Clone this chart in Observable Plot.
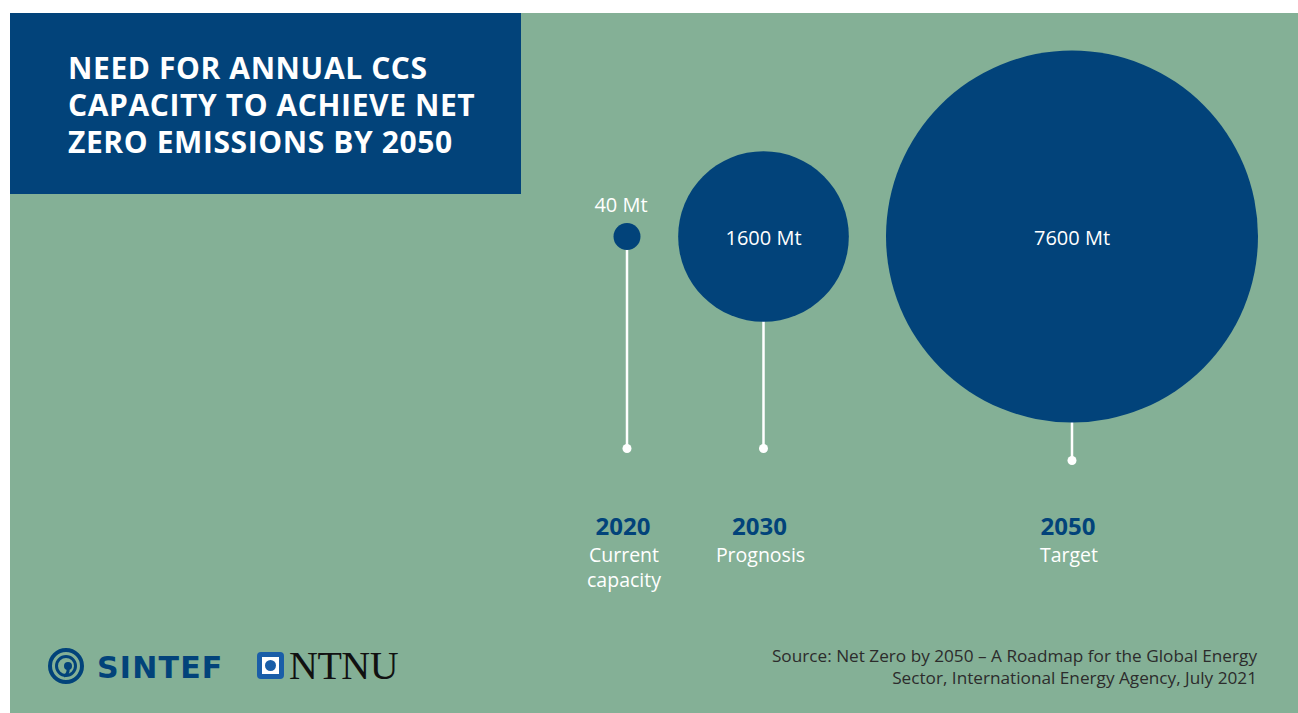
<!DOCTYPE html>
<html>
<head>
<meta charset="utf-8">
<script src="https://cdn.jsdelivr.net/npm/d3@7"></script>
<script src="https://cdn.jsdelivr.net/npm/@observablehq/plot@0.6"></script>
<style>
  html, body { margin: 0; padding: 0; background: #ffffff; }
  #page { position: relative; width: 1298px; height: 713px; overflow: hidden; background: #ffffff; font-family: "Open Sans", sans-serif; }
  #panel { position: absolute; left: 10px; top: 13px; width: 1288px; height: 700px; background: #84b096; }
  #titlebox { position: absolute; left: 10px; top: 13px; width: 511px; height: 181px; background: #02437a; }
  #title { position: absolute; left: 68px; top: 49px; margin: 0; color: #ffffff; font-family: "Open Sans", sans-serif; font-weight: 700; font-size: 30px; line-height: 37px; letter-spacing: 0.6px; }
  #chart { position: absolute; left: 0; top: 0; }
  #source { position: absolute; right: 41px; top: 645px; text-align: right; color: #2c2c2c; font-family: "Open Sans", sans-serif; font-size: 17.2px; line-height: 22px; }
  #logos { position: absolute; left: 46px; top: 635px; overflow: visible; }
</style>
</head>
<body>
<div id="page">
  <div id="panel"></div>
  <div id="titlebox"></div>
  <h1 id="title">NEED FOR ANNUAL CCS<br>CAPACITY TO ACHIEVE NET<br>ZERO EMISSIONS BY 2050</h1>
  <div id="chart"></div>
  <svg id="logos" width="400" height="66" viewBox="0 0 400 66">
    <g transform="translate(0,10)">
      <g fill="none" stroke="#02437a">
        <circle cx="20" cy="21" r="16" stroke-width="4"/>
        <circle cx="20" cy="21" r="9.5" stroke-width="3"/>
      </g>
      <circle cx="22" cy="21" r="4" fill="#02437a"/>
      <path d="M22 23 q1 6 -4 8" stroke="#02437a" stroke-width="3" fill="none"/>
      <text x="51" y="33" fill="#02437a" font-family="'DejaVu Sans', sans-serif" font-weight="700" font-size="30" letter-spacing="1.2">SINTEF</text>
      <rect x="211" y="7" width="27" height="27" rx="4" fill="#1a5ea8"/>
      <rect x="216" y="12" width="17" height="17" fill="#ffffff"/>
      <circle cx="224.5" cy="20.5" r="5.5" fill="#1a5ea8"/>
      <text x="243" y="34" fill="#111111" font-family="'Liberation Serif', serif" font-size="40" letter-spacing="-0.5">NTNU</text>
    </g>
  </svg>
  <div id="source">Source: Net Zero by 2050 – A Roadmap for the Global Energy<br>Sector, International Energy Agency, July 2021</div>
</div>
<script>
// ---- data ----
const years = [2020, 2030, 2050];
const capacities = [40, 1600, 7600];        // Mt CO2 per year
const valueLabels = ["40 Mt", "1600 Mt", "7600 Mt"];
const stageLabels = ["Current\ncapacity", "Prognosis", "Target"];

// ---- layout (not data) ----
const blue = "#02437a";
const centerY = 236;
const stemBottom = [448, 448, 460];

const rows = years.map((y, i) => ({
  year: y,
  value: capacities[i],
  label: valueLabels[i],
  stage: stageLabels[i],
  bottom: stemBottom[i]
}));

const chart = Plot.plot({
  width: 1298,
  height: 713,
  margin: 0,
  style: { background: "transparent", overflow: "visible" },
  x: { type: "linear", domain: [2020, 2030, 2050], range: [626.5, 763, 1071.5], axis: null },
  y: { type: "identity", axis: null },
  r: { type: "sqrt", domain: [0, 7600], range: [0, 186] },
  marks: [
    Plot.ruleX(rows, { x: "year", y1: centerY, y2: "bottom", stroke: "#ffffff", strokeWidth: 2.5 }),
    Plot.dot(rows, { x: "year", y: "bottom", r: 4.5, fill: "#ffffff", stroke: "none" }),
    Plot.dot(rows, { x: "year", y: centerY, r: "value", fill: blue, stroke: "none" }),
    // value labels: inside large circles, above small ones
    Plot.text(rows.filter(d => d.value >= 500), { x: "year", y: centerY, text: "label", fill: "#ffffff", fontSize: 20, fontFamily: "Open Sans", dy: 2 }),
    Plot.text(rows.filter(d => d.value < 500), { x: "year", y: centerY, text: "label", fill: "#ffffff", fontSize: 20, fontFamily: "Open Sans", dx: -6, dy: -31 }),
    // year labels
    Plot.text(rows, { x: "year", y: 527, text: d => String(d.year), fill: blue, fontSize: 24, fontWeight: 700, fontFamily: "Open Sans", dx: -4 }),
    Plot.text(rows, { x: "year", y: 543, text: "stage", fill: "#ffffff", fontSize: 19.5, fontFamily: "Open Sans", lineAnchor: "top", lineHeight: 1.3, textAnchor: "middle", dx: -3 })
  ]
});
document.getElementById("chart").appendChild(chart);
</script>
</body>
</html>
